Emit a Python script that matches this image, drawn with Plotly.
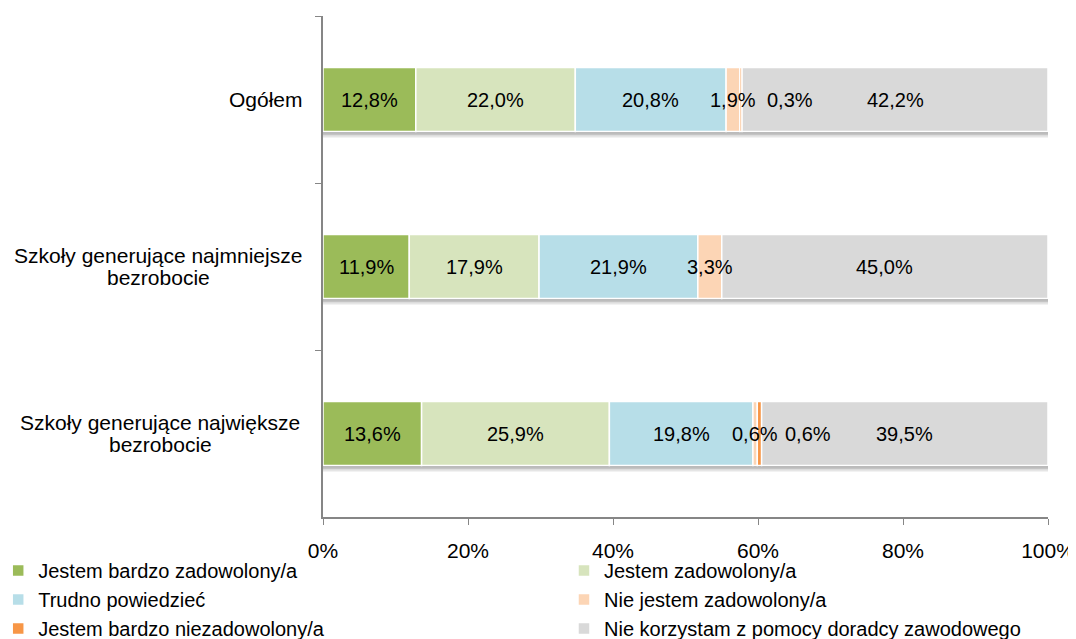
import numpy as np
import plotly.graph_objects as go

categories = ["Ogółem",
              "Szkoły generujące najmniejsze<br>bezrobocie",
              "Szkoły generujące największe<br>bezrobocie"]
series_names = ["Jestem bardzo zadowolony/a",
                "Jestem zadowolony/a",
                "Trudno powiedzieć",
                "Nie jestem zadowolony/a",
                "Jestem bardzo niezadowolony/a",
                "Nie korzystam z pomocy doradcy zawodowego"]
bardzo_zadowolony = [12.8, 11.9, 13.6]
zadowolony = [22.0, 17.9, 25.9]
trudno = [20.8, 21.9, 19.8]
nie_zadowolony = [1.9, 3.3, 0.6]
bardzo_niezadowolony = [0.3, 0.0, 0.6]
nie_korzystam = [42.2, 45.0, 39.5]
x_tick_vals = [0, 20, 40, 60, 80, 100]
x_tick_text = ["0%", "20%", "40%", "60%", "80%", "100%"]

series = [bardzo_zadowolony, zadowolony, trudno, nie_zadowolony,
          bardzo_niezadowolony, nie_korzystam]
colors = ["#9BBB59", "#D7E4BD", "#B7DEE8", "#FCD5B5", "#F79646", "#D9D9D9"]
label_xshift = [0, 0, 0, 0, 49, 0]
legend_ids = ["legend", "legend2", "legend", "legend2", "legend", "legend2"]
cat_center_shift = [None, -165, -163]   # pixel offset of centred multi-line labels

FONT = "Liberation Sans, Arial, sans-serif"
FS_BAR = 20
FS_CAT = 21
FS_TICK = 21
FS_LEG = 20
BW = 0.383
LINE_GAP = 22

vals = np.array(series)
bases = np.vstack([np.zeros(vals.shape[1]), np.cumsum(vals, axis=0)[:-1]])
totals = vals.sum(axis=0)

fig = go.Figure()

# soft shadows under the bars
for off, alpha in [(0.036, 0.10), (0.022, 0.14), (0.010, 0.16)]:
    fig.add_trace(go.Bar(
        y=categories, x=totals + 0.3, base=0, orientation="h",
        width=BW, offset=-BW / 2 + off,
        marker=dict(color=f"rgba(0,0,0,{alpha})", line=dict(width=0)),
        showlegend=False, hoverinfo="skip"))

for i, (name, v) in enumerate(zip(series_names, series)):
    fig.add_trace(go.Bar(
        y=categories, x=v, base=bases[i], orientation="h", name=name,
        width=BW, offset=-BW / 2, legend=legend_ids[i],
        marker=dict(color=colors[i], line=dict(color="white", width=1.5)),
    ))

annotations = []
for i, v in enumerate(series):
    for j, val in enumerate(v):
        if val <= 0:
            continue
        annotations.append(dict(
            x=bases[i][j] + val / 2, y=categories[j], xref="x", yref="y",
            text=f"{val:.1f}".replace(".", ",") + "%", showarrow=False,
            xshift=label_xshift[i], font=dict(family=FONT, size=FS_BAR, color="black")))

for j, c in enumerate(categories):
    lines = c.split("<br>")
    n = len(lines)
    for k, line in enumerate(lines):
        ys = ((n - 1) / 2 - k) * LINE_GAP
        if n == 1:
            annotations.append(dict(
                x=0, y=c, xref="paper", yref="y", xanchor="right", xshift=-18,
                yshift=ys, text=line, showarrow=False,
                font=dict(family=FONT, size=FS_CAT, color="black")))
        else:
            annotations.append(dict(
                x=0, y=c, xref="paper", yref="y", xanchor="center",
                xshift=cat_center_shift[j], yshift=ys, text=line, showarrow=False,
                font=dict(family=FONT, size=FS_CAT, color="black")))

leg_common = dict(orientation="v", yanchor="top", xanchor="left",
                  font=dict(family=FONT, size=FS_LEG, color="black"),
                  bgcolor="rgba(0,0,0,0)", itemwidth=30, traceorder="normal")

fig.update_layout(
    width=1068, height=631,
    margin=dict(l=315, r=28, t=8, b=122, autoexpand=False),
    plot_bgcolor="white", paper_bgcolor="white",
    barmode="overlay",
    font=dict(family=FONT, size=FS_TICK, color="black"),
    annotations=annotations,
    xaxis=dict(range=[0, 100], tickvals=x_tick_vals, ticktext=x_tick_text,
               showgrid=False, zeroline=False, showline=True, linecolor="#868686",
               linewidth=1.5, ticks="outside", ticklen=6, tickcolor="#868686",
               ticklabelstandoff=8, automargin=False,
               tickfont=dict(family=FONT, size=FS_TICK, color="black")),
    yaxis=dict(autorange="reversed", showgrid=False, zeroline=False,
               showline=True, linecolor="#868686", linewidth=1.5,
               ticks="outside", ticklen=6, tickcolor="#868686",
               tickson="boundaries", showticklabels=False, automargin=False),
    legend=dict(x=-0.448, y=-0.068, **leg_common),
    legend2=dict(x=0.3324, y=-0.068, **leg_common),
    showlegend=True,
)

fig.write_html("out.html")
